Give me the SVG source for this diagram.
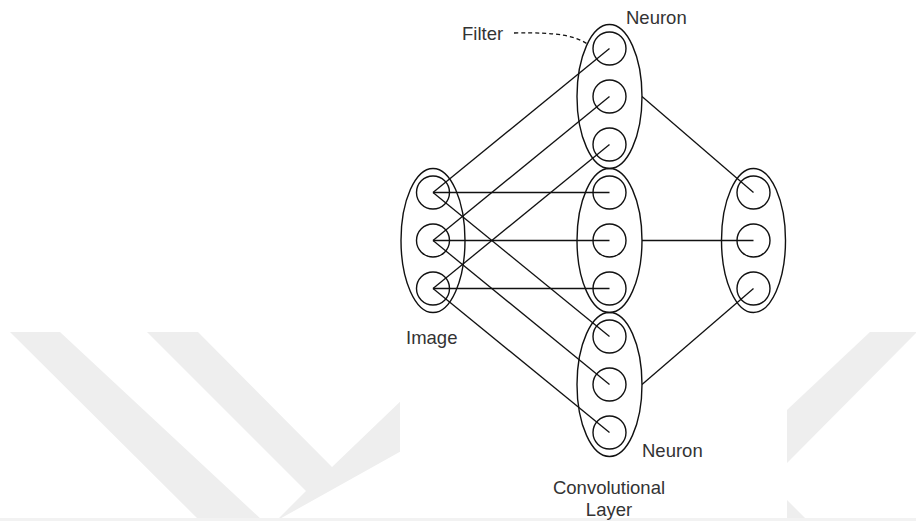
<svg xmlns="http://www.w3.org/2000/svg" width="916" height="521" viewBox="0 0 916 521">
<style>
.wm{fill:#eeeeee;stroke:none}
.n{fill:none;stroke:#111;stroke-width:1.4}
.e{stroke:#111;stroke-width:1.3;fill:none}
.t{font-family:"Liberation Sans",Arial,sans-serif;font-size:18.5px;fill:#333333}
</style>
<rect x="0" y="0" width="916" height="521" fill="#ffffff"/>
<g id="watermark">
<polygon class="wm" points="10,332 60,332 263,521 200,521"/>
<polygon class="wm" points="147,332 198,332 332,467 430,373 430,435 276,521 306,491"/>
<polygon class="wm" points="787,410 870,332 916,332 916,333 787,463"/>
<polygon class="wm" points="787,500 787,521 808,521"/>
<rect x="0" y="518" width="916" height="3" fill="#f2f2f2"/>
</g>
<rect x="400" y="0" width="387" height="518" fill="#ffffff"/>
<g id="connectors">
<line class="e" x1="433" y1="192.5" x2="609.5" y2="48.5"/>
<line class="e" x1="433" y1="240.5" x2="609.5" y2="96.5"/>
<line class="e" x1="433" y1="288.5" x2="609.5" y2="144.5"/>
<line class="e" x1="433" y1="192.5" x2="609.5" y2="192.5"/>
<line class="e" x1="433" y1="240.5" x2="609.5" y2="240.5"/>
<line class="e" x1="433" y1="288.5" x2="609.5" y2="288.5"/>
<line class="e" x1="433" y1="192.5" x2="609.5" y2="336.5"/>
<line class="e" x1="433" y1="240.5" x2="609.5" y2="384.5"/>
<line class="e" x1="433" y1="288.5" x2="609.5" y2="432.5"/>
<line class="e" x1="642" y1="96.5" x2="753.5" y2="192.5"/>
<line class="e" x1="642" y1="240.5" x2="753.5" y2="240.5"/>
<line class="e" x1="642" y1="384.5" x2="753.5" y2="288.5"/>
<path class="e" d="M 514 33 C 560 32 576 36 589 45" stroke-dasharray="4 3"/>
</g>
<g id="image">
<ellipse class="n" cx="433" cy="240.5" rx="32" ry="72"/>
<circle class="n" cx="433" cy="192.5" r="16.5"/>
<circle class="n" cx="433" cy="240.5" r="16.5"/>
<circle class="n" cx="433" cy="288.5" r="16.5"/>
<text class="t" x="406" y="344">Image</text>
</g>
<g id="conv-top">
<ellipse class="n" cx="609.5" cy="96.5" rx="32.5" ry="72"/>
<circle class="n" cx="609.5" cy="48.5" r="16.5"/>
<circle class="n" cx="609.5" cy="96.5" r="16.5"/>
<circle class="n" cx="609.5" cy="144.5" r="16.5"/>
</g>
<g id="conv-mid">
<ellipse class="n" cx="609.5" cy="240.5" rx="32.5" ry="72"/>
<circle class="n" cx="609.5" cy="192.5" r="16.5"/>
<circle class="n" cx="609.5" cy="240.5" r="16.5"/>
<circle class="n" cx="609.5" cy="288.5" r="16.5"/>
</g>
<g id="conv-bottom">
<ellipse class="n" cx="609.5" cy="384.5" rx="32.5" ry="72"/>
<circle class="n" cx="609.5" cy="336.5" r="16.5"/>
<circle class="n" cx="609.5" cy="384.5" r="16.5"/>
<circle class="n" cx="609.5" cy="432.5" r="16.5"/>
</g>
<g id="output">
<ellipse class="n" cx="753.5" cy="240.5" rx="32" ry="72"/>
<circle class="n" cx="753.5" cy="192.5" r="16.5"/>
<circle class="n" cx="753.5" cy="240.5" r="16.5"/>
<circle class="n" cx="753.5" cy="288.5" r="16.5"/>
</g>
<g id="labels">
<text class="t" x="462" y="39.5">Filter</text>
<text class="t" x="626" y="24">Neuron</text>
<text class="t" x="642" y="456.5">Neuron</text>
<text class="t" x="609" y="493.5" text-anchor="middle">Convolutional</text>
<text class="t" x="609" y="516" text-anchor="middle">Layer</text>
</g>
</svg>
